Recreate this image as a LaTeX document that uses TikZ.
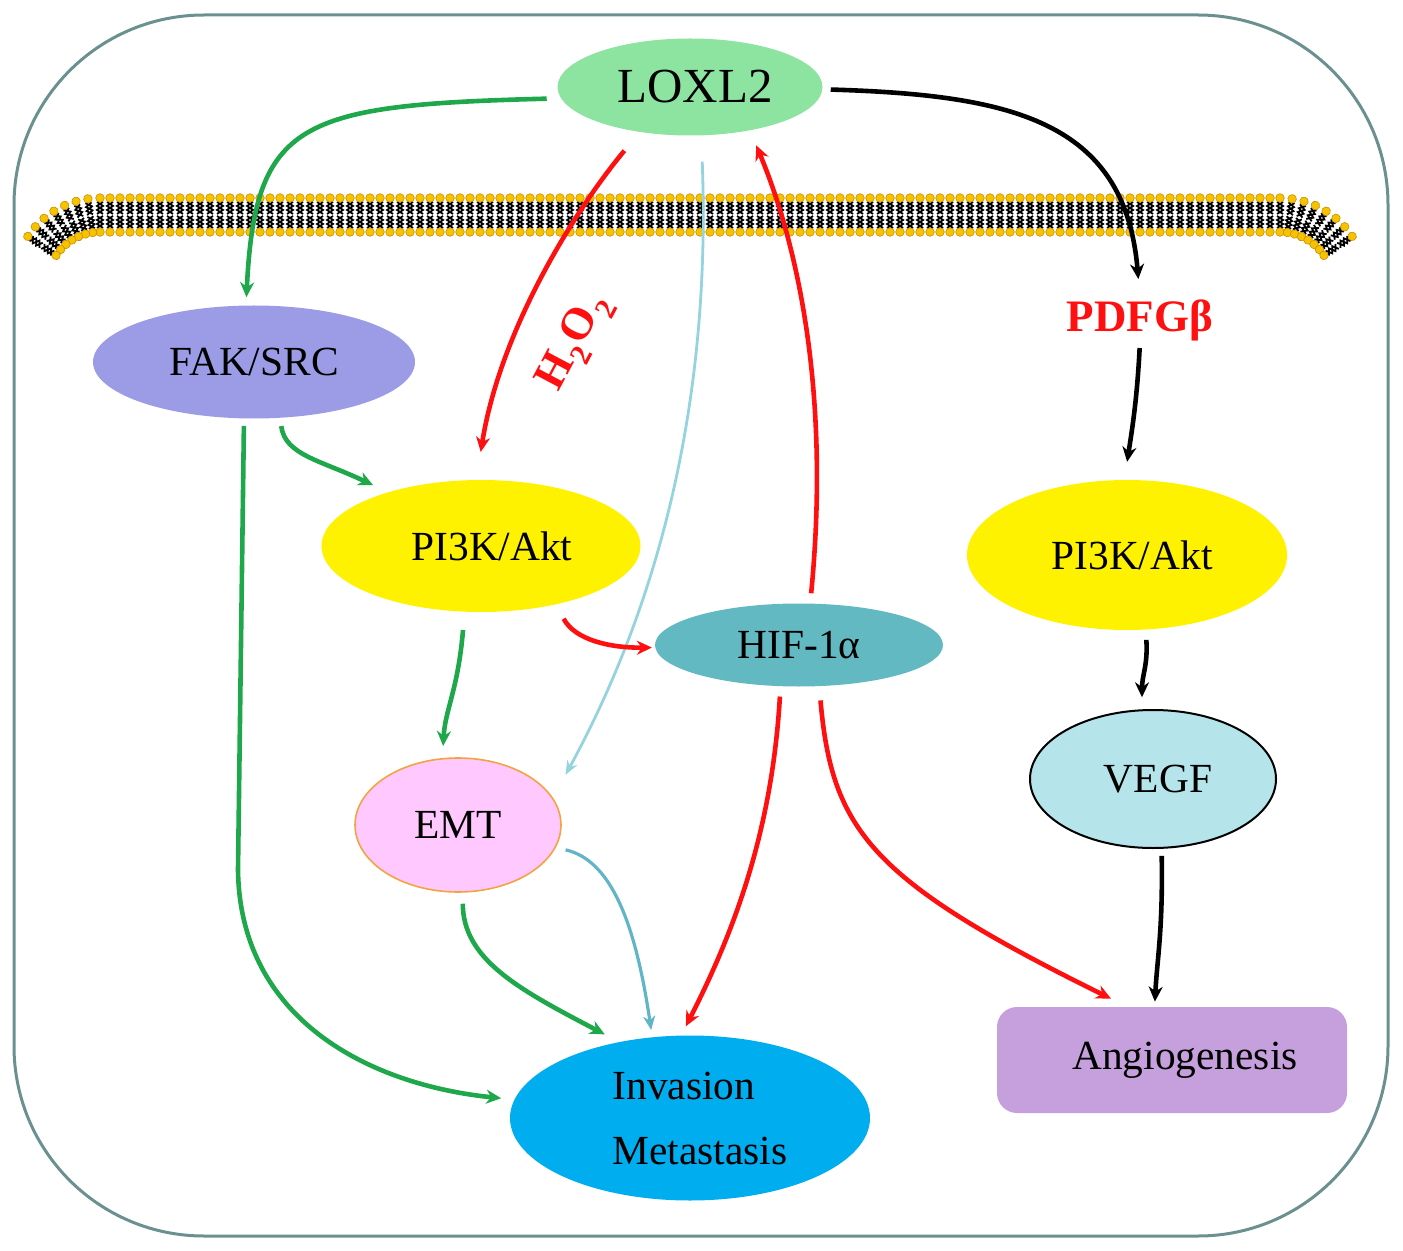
\documentclass[tikz,border=0pt]{standalone}
\usepackage{fontspec}
\setmainfont{Liberation Serif}
\usetikzlibrary{arrows.meta,shapes.geometric}
\definecolor{framegray}{HTML}{6A9090}
\definecolor{loxgreen}{HTML}{8DE3A0}
\definecolor{fakblue}{HTML}{9C9CE6}
\definecolor{hifteal}{HTML}{63B9C2}
\definecolor{emtpink}{HTML}{FFC8FF}
\definecolor{emtorange}{HTML}{F4A341}
\definecolor{invblue}{HTML}{00ADEF}
\definecolor{vegfcyan}{HTML}{B5E5EA}
\definecolor{angpurple}{HTML}{C6A0DC}
\definecolor{arrowgreen}{HTML}{1FA84B}
\definecolor{arrowred}{HTML}{FF1010}
\definecolor{lightcyan}{HTML}{95D3DE}
\definecolor{tealline}{HTML}{62B5C6}
\definecolor{headyellow}{HTML}{F5C400}
\definecolor{headorange}{HTML}{D08A00}
\tikzset{
  >={Stealth[length=7.5pt,width=7pt]},
  oval/.style={
    ellipse,
    inner sep=0pt,
    font=\fontsize{20.7}{24}\selectfont},
  gline/.style={draw=arrowgreen, line width=2.3pt, ->},
  rline/.style={draw=arrowred, line width=2.3pt, ->},
  kline/.style={draw=black, line width=2.3pt, ->},
  cline/.style={draw=lightcyan, line width=1.4pt, -{Stealth[length=7pt,width=5.5pt]}},
  tline/.style={draw=tealline, line width=1.6pt, -{Stealth[length=7pt,width=6pt]}},
  redlabel/.style={text=arrowred, inner sep=0pt,
    font=\fontsize{22.5}{26}\selectfont\bfseries},
  lipid/.pic={
    \draw[line width=0.9pt] (-3,-13) -- (3,-9) -- (-3,-5) -- (3,-1)
      (3,-13) -- (-3,-9) -- (3,-5) -- (-3,-1)
      (-3,13) -- (3,9) -- (-3,5) -- (3,1)
      (3,13) -- (-3,9) -- (3,5) -- (-3,1);
    \filldraw[fill=headyellow, draw=headorange, line width=0.3pt]
      (0,-17) circle (4.3) (0,17) circle (4.3);
  },
}
\begin{document}
\begin{tikzpicture}[x=0.5pt, y=-0.5pt]
\useasboundingbox (0,0) rectangle (1403,1251);
\draw[framegray, line width=1.5pt, rounded corners=95pt] (14,15) rectangle (1388,1236);

% membrane
\foreach \x in {100,110,...,1285}
  \pic at (\x,215) {lipid};
\foreach \t in {8,16,...,56} {
  \pic[rotate=\t] at ({100-70*sin(\t)},{215+70*(1-cos(\t))}) {lipid};
  \pic[rotate=-\t] at ({1280+70*sin(\t)},{215+70*(1-cos(\t))}) {lipid};
}

\node[oval, fill=loxgreen, minimum width=132.5pt, minimum height=48.5pt,
  font=\fontsize{24.5}{28}\selectfont] (lox) at (690,87) {\hspace{5pt}LOXL2};
\node[oval, fill=fakblue, minimum width=161pt, minimum height=56.5pt] (fak) at (254,362) {FAK/SRC};
\node[oval, fill=yellow, minimum width=159.5pt, minimum height=66pt] (pil) at (481,546) {\hspace{11pt}PI3K/Akt};
\node[oval, fill=hifteal, minimum width=144pt, minimum height=41.5pt] (hif) at (799,645) {HIF-1α};
\node[oval, fill=emtpink, draw=emtorange, line width=0.8pt, minimum width=103pt,
  minimum height=67pt] (emt) at (458,825) {EMT};
\node[oval, fill=invblue, minimum width=180pt, minimum height=82.5pt, align=left,
  font=\fontsize{20.7}{32.5}\selectfont] (inv) at (690,1118) {\hspace*{10pt}Invasion\\\hspace*{10pt}Metastasis};
\node[redlabel] (pdfg) at (1140,320) {PDFGβ};
\node[redlabel, rotate=62] (hoo) at (575,343) {H\kern0.5pt\raisebox{-0.3em}{\fontsize{15}{15}\selectfont 2}\kern0.5pt O\kern0.5pt\raisebox{-0.3em}{\fontsize{15}{15}\selectfont 2}};
\node[oval, fill=yellow, minimum width=160pt, minimum height=75pt] (pir) at (1127,555) {\hspace{5pt}PI3K/Akt};
\node[oval, fill=vegfcyan, draw=black, line width=1pt, minimum width=123pt,
  minimum height=69pt] (vegf) at (1153,779) {\hspace{5pt}VEGF};
\node[rectangle, rounded corners=10pt, fill=angpurple, minimum width=175pt, minimum height=53pt,
  inner sep=0pt, font=\fontsize{20.7}{24}\selectfont] (ang) at (1172,1060) {\hspace{13pt}Angiogenesis};

\draw[gline, shorten <=7pt, shorten >=4pt] (lox.185) .. controls (300,105) and (255,120) .. (fak.98);
\draw[gline, shorten <=4pt, shorten >=8pt] (fak.-65) .. controls (285,455) and (320,460) .. (pil.150);
\draw[gline, shorten <=3.5pt, shorten >=6.5pt] (fak.-100) -- (238,870)
  .. controls (240,1020) and (370,1085) .. (inv.174);
\draw[gline, shorten <=9pt, shorten >=6pt] (pil.-104) .. controls (458,690) and (445,710) .. (emt.103);
\draw[gline, shorten <=5.5pt, shorten >=8pt] (emt.-86) .. controls (463,960) and (520,990) .. (inv.133);
\draw[cline, shorten <=13pt, shorten >=13pt] (lox.-77) .. controls (712,420) and (650,620) .. (emt.16);
\draw[tline, shorten <=5pt, shorten >=3.5pt] (emt.-13) .. controls (610,860) and (635,920) .. (inv.115);
\draw[rline, shorten <=12pt, shorten >=14pt] (lox.-138) .. controls (575,210) and (500,330) .. (pil.94);
\draw[rline, shorten <=8pt, shorten >=1.5pt] (pil.-38) .. controls (575,640) and (610,648) .. (hif.181);
\draw[rline, shorten <=5pt, shorten >=8pt] (hif.75) .. controls (830,400) and (800,250) .. (lox.-36);
\draw[rline, shorten <=5pt, shorten >=5pt] (hif.-114) .. controls (772,830) and (735,930) .. (inv.96);
\draw[rline, shorten <=7pt, shorten >=9pt] (hif.-64) .. controls (832,830) and (870,880) .. (ang.130);
\draw[kline, shorten <=4pt, shorten >=10pt] (lox.-1) .. controls (1010,95) and (1125,120) .. (pdfg.north);
\draw[kline, shorten <=3.5pt, shorten >=9pt] (pdfg.south) .. controls (1137,400) and (1132,430) .. (pir.92);
\draw[kline, shorten <=5pt, shorten >=6pt] (pir.-76) .. controls (1148,665) and (1142,675) .. (vegf.99);
\draw[kline, shorten <=3.5pt, shorten >=2.5pt] (vegf.-83) .. controls (1163,930) and (1157,960) .. (ang.108);
\end{tikzpicture}
\end{document}
